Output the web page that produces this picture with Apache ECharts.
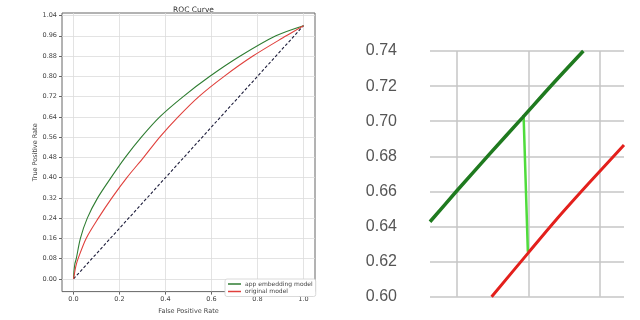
<!DOCTYPE html>
<html>
<head>
<meta charset="utf-8">
<script src="https://cdn.jsdelivr.net/npm/echarts@6/dist/echarts.min.js"></script>
<style>html,body{margin:0;padding:0;background:#fff}#c{width:640px;height:320px}</style>
</head>
<body>
<div id="c"></div>
<script>
// ---- Left panel: ROC curves ----
const greenFpr = [0, 0.002, 0.006, 0.012, 0.03, 0.06, 0.105, 0.163, 0.225, 0.295, 0.375, 0.477, 0.593, 0.725, 0.88, 1.0];
const greenTpr = [0, 0.03, 0.06, 0.08, 0.16, 0.24, 0.32, 0.40, 0.48, 0.56, 0.64, 0.72, 0.80, 0.88, 0.96, 1.0];
const redFpr = [0, 0.004, 0.01, 0.02, 0.055, 0.108, 0.167, 0.232, 0.305, 0.375, 0.455, 0.545, 0.655, 0.78, 0.925, 1.0];
const redTpr = [0, 0.02, 0.05, 0.08, 0.16, 0.24, 0.32, 0.40, 0.48, 0.56, 0.64, 0.72, 0.80, 0.88, 0.96, 1.0];
const diagX = [0, 1];
const diagY = [0, 1];
const xTicks = [0, 0.2, 0.4, 0.6, 0.8, 1.0];
const yTicks = [0, 0.08, 0.16, 0.24, 0.32, 0.40, 0.48, 0.56, 0.64, 0.72, 0.80, 0.88, 0.96, 1.04];
const seriesNames = ['app embedding model', 'original model'];

// ---- Right panel: magnified view ----
const zoomGreenX = [0.381, 0.40, 0.423, 0.446, 0.467, 0.4885];
const zoomGreenY = [0.6427, 0.6605, 0.6815, 0.7022, 0.7212, 0.74];
const zoomRedX = [0.4242, 0.4496, 0.4693, 0.4923, 0.517];
const zoomRedY = [0.60, 0.6247, 0.6437, 0.6646, 0.6864];
const gapX = [0.4466, 0.4496];
const gapY = [0.7035, 0.6256];
const zoomXGrid = [0.40, 0.45, 0.50];

const pair = (xs, ys) => xs.map((x, i) => [x, ys[i]]);
const small = {fontFamily: 'DejaVu Sans', fontSize: 6.5, color: '#444'};

const chart = echarts.init(document.getElementById('c'), null, {renderer: 'canvas'});
chart.setOption({
  animation: false,
  backgroundColor: '#fff',
  title: {
    text: 'ROC Curve', left: 188.5, top: 1, textAlign: 'center',
    textStyle: {fontFamily: 'DejaVu Sans', fontSize: 7.5, fontWeight: 'normal', color: '#333'}
  },
  legend: {
    data: seriesNames.map(n => ({name: n})),
    orient: 'vertical', left: 225, top: 279,
    itemWidth: 13, itemHeight: 1.5, itemGap: 1.5, icon: 'rect',
    padding: [2, 3, 2, 3],
    backgroundColor: '#fff', borderColor: '#d0d0d0', borderWidth: 0.8, borderRadius: 2,
    textStyle: {fontFamily: 'DejaVu Sans', fontSize: 6, color: '#444', padding: [0, 0, 0, -1]}
  },
  grid: [
    {left: 62, right: 325, top: 13, bottom: 22, show: true, borderColor: '#666', borderWidth: 1},
    {left: 430, right: 16, top: 51, bottom: 23.3, show: false}
  ],
  xAxis: [
    {
      gridIndex: 0, type: 'value', min: -0.05, max: 1.05,
      name: 'False Positive Rate', nameLocation: 'middle', nameGap: 11.5,
      nameTextStyle: small,
      axisLine: {show: false, onZero: false},
      axisTick: {show: true, inside: false, length: 3, lineStyle: {color: '#666'}, customValues: xTicks},
      axisLabel: Object.assign({margin: 4.5, customValues: xTicks, formatter: v => v.toFixed(1)}, small),
      splitLine: {show: true, lineStyle: {color: '#dcdcdc', width: 0.8}}
    },
    {
      gridIndex: 1, type: 'value', min: 0.381, max: 0.517,
      axisLine: {show: false, onZero: false},
      axisTick: {show: false, customValues: zoomXGrid},
      axisLabel: {show: false, customValues: zoomXGrid},
      splitLine: {show: true, lineStyle: {color: '#c6c6c6', width: 1.5}}
    }
  ],
  yAxis: [
    {
      gridIndex: 0, type: 'value', min: -0.05, max: 1.05,
      name: 'True Positive Rate', nameLocation: 'middle', nameGap: 19, nameRotate: 90,
      nameTextStyle: small,
      axisLine: {show: false, onZero: false},
      axisTick: {show: true, inside: false, length: 3, lineStyle: {color: '#666'}, customValues: yTicks},
      axisLabel: Object.assign({margin: 5, customValues: yTicks, formatter: v => v.toFixed(2)}, small),
      splitLine: {show: true, lineStyle: {color: '#dcdcdc', width: 0.8}}
    },
    {
      gridIndex: 1, type: 'value', min: 0.60, max: 0.74, interval: 0.02,
      axisLine: {show: false, onZero: false}, axisTick: {show: false},
      axisLabel: {margin: 33, fontFamily: 'Liberation Sans', fontSize: 16, color: '#555', formatter: v => v.toFixed(2)},
      splitLine: {show: true, lineStyle: {color: '#c6c6c6', width: 1.5}}
    }
  ],
  series: [
    {
      name: seriesNames[0], type: 'line', xAxisIndex: 0, yAxisIndex: 0,
      data: pair(greenFpr, greenTpr), smooth: 0.3, showSymbol: false,
      lineStyle: {color: '#2f7d32', width: 1.1}, itemStyle: {color: '#2f7d32'}, z: 3
    },
    {
      name: seriesNames[1], type: 'line', xAxisIndex: 0, yAxisIndex: 0,
      data: pair(redFpr, redTpr), smooth: 0.3, showSymbol: false,
      lineStyle: {color: '#e0403c', width: 1.1}, itemStyle: {color: '#e0403c'}, z: 3
    },
    {
      name: 'chance', type: 'line', xAxisIndex: 0, yAxisIndex: 0,
      data: pair(diagX, diagY), showSymbol: false,
      lineStyle: {color: '#1c1c3a', width: 1.1, type: [3, 2]}, z: 2
    },
    {
      name: 'zoomGreen', type: 'line', xAxisIndex: 1, yAxisIndex: 1,
      data: pair(zoomGreenX, zoomGreenY), smooth: 0.3, showSymbol: false, clip: true,
      lineStyle: {color: '#1f7a1f', width: 3.5}
    },
    {
      name: 'zoomRed', type: 'line', xAxisIndex: 1, yAxisIndex: 1,
      data: pair(zoomRedX, zoomRedY), smooth: 0.3, showSymbol: false, clip: true,
      lineStyle: {color: '#e3201c', width: 3}
    },
    {
      name: 'gap', type: 'line', xAxisIndex: 1, yAxisIndex: 1,
      data: pair(gapX, gapY), showSymbol: false,
      lineStyle: {color: '#4fdc3c', width: 2.5}, z: 1
    }
  ]
});
</script>
</body>
</html>
